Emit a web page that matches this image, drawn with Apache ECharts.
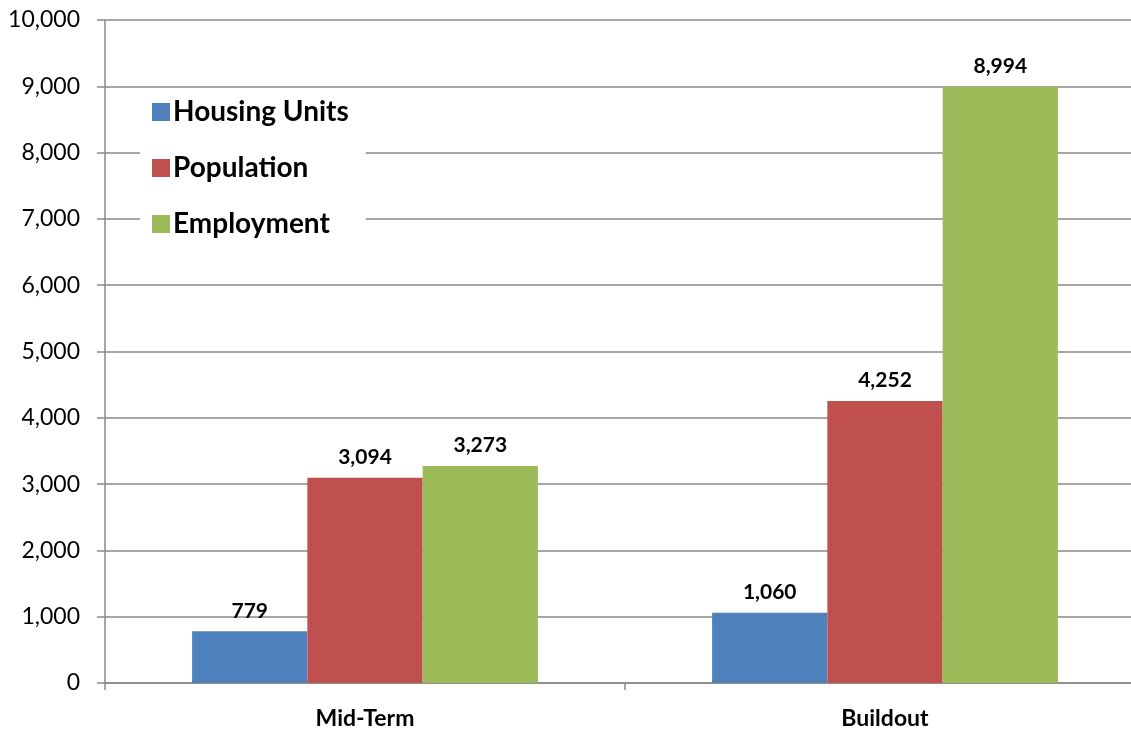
<!DOCTYPE html>
<html><head><meta charset="utf-8">
<script src="https://cdn.jsdelivr.net/npm/echarts@6/dist/echarts.min.js"></script>
<style>html,body{margin:0;padding:0;background:#fff;overflow:hidden;width:1131px;height:730px}#c{width:1145px;height:730px}</style>
</head><body><div id="c"></div>
<script>
const categories = ['Mid-Term', 'Buildout'];
const housingUnits = [779, 1060];
const population = [3094, 4252];
const employment = [3273, 8994];
const yTicks = [0, 1000, 2000, 3000, 4000, 5000, 6000, 7000, 8000, 9000, 10000];

const FONT = 'Lato';
const fmt = v => v.toLocaleString('en-US');
const lbl = {show: true, position: 'top', fontFamily: FONT, fontWeight: 'bold', fontSize: 21, color: '#000', distance: 10,
  formatter: p => fmt(p.value)};

const chart = echarts.init(document.getElementById('c'));
chart.setOption({
  animation: false,
  grid: {left: 105, top: 20, bottom: 47, right: 0, containLabel: false},
  legend: {
    orient: 'vertical', left: 140, top: 92, backgroundColor: '#fff', padding: [5, 17, 1, 12],
    itemWidth: 18, itemHeight: 18, itemGap: 26, icon: 'rect',
    textStyle: {fontFamily: FONT, fontWeight: 'bold', fontSize: 28, lineHeight: 30, color: '#000', padding: [0, 0, 0, -2]},
    data: ['Housing Units', 'Population', 'Employment']
  },
  xAxis: {
    type: 'category', data: categories,
    axisLine: {lineStyle: {color: '#898989', width: 1.5}},
    axisTick: {show: true, length: 7, lineStyle: {color: '#898989', width: 1.5}},
    axisLabel: {fontFamily: FONT, fontWeight: 'bold', fontSize: 23, color: '#000', margin: 24}
  },
  yAxis: {
    type: 'value', min: yTicks[0], max: yTicks[yTicks.length - 1], interval: 1000,
    axisLine: {show: true, lineStyle: {color: '#898989', width: 1.5}},
    axisTick: {show: true, length: 8, lineStyle: {color: '#898989', width: 1.5}},
    splitLine: {lineStyle: {color: '#898989', width: 1.5}},
    axisLabel: {fontFamily: FONT, fontSize: 23, color: '#000', margin: 25, formatter: v => fmt(v)}
  },
  series: [
    {name: 'Housing Units', type: 'bar', data: housingUnits, itemStyle: {color: '#4F81BD'}, label: lbl, barGap: '0%', barCategoryGap: '33.5%'},
    {name: 'Population', type: 'bar', data: population, itemStyle: {color: '#C0504D'}, label: lbl},
    {name: 'Employment', type: 'bar', data: employment, itemStyle: {color: '#9BBB59'}, label: lbl}
  ]
});
</script></body></html>
